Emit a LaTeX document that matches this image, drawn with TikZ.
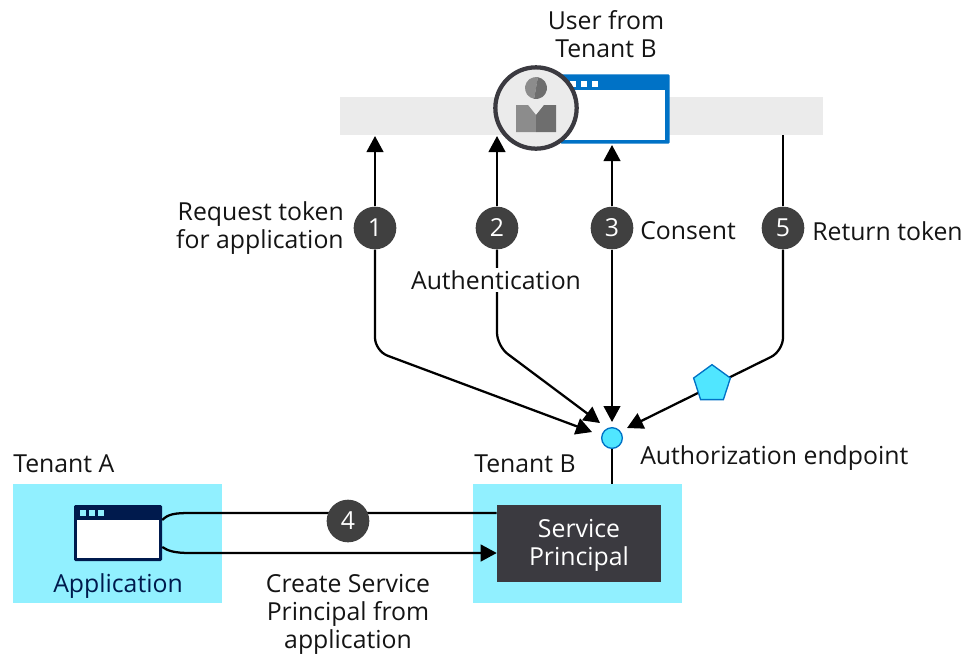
\documentclass[tikz,border=0pt]{standalone}
\usepackage{fontspec}
\setmainfont{Open Sans}
\usetikzlibrary{arrows.meta, shapes.geometric}

\definecolor{tenantcyan}{HTML}{91F0FF}
\definecolor{endpointcyan}{HTML}{50E6FF}
\definecolor{azureblue}{HTML}{0072C6}
\definecolor{navy}{HTML}{001A4D}
\definecolor{darkbox}{HTML}{3B3A40}
\definecolor{stepgray}{HTML}{404040}

\begin{document}
\begin{tikzpicture}[
    x=0.75pt, y=-0.75pt,
    font=\fontsize{18.6}{21}\selectfont,
    label/.style={align=center, inner sep=0pt, text=black!92},
    tenant/.style={fill=tenantcyan, minimum width=157pt, minimum height=89pt, inner sep=0pt},
    stepdot/.style={circle, fill=stepgray, text=white, minimum size=32pt, inner sep=0pt},
    arrow/.style={-{Triangle[length=12pt,width=12.5pt]}, draw=black, line width=1.7pt},
    wire/.style={draw=black, line width=1.7pt},
    winsquare/.style={minimum size=3.8pt, inner sep=0pt},
]
\useasboundingbox (0,0) rectangle (974,662);

% bar with the user on it
\node[fill=black!8, minimum width=362pt, minimum height=28.5pt, inner sep=0pt] (bar) at (581.5,116) {};
\node[fill=azureblue, rounded corners=1pt, minimum width=82pt, minimum height=52pt, inner sep=0pt] (browser) at (615,109) {};
\node[fill=white, minimum width=75pt, minimum height=37.5pt, inner sep=0pt] (browserpane) at (615,115) {};
\foreach \x in {573,584,595}
    \node[winsquare, fill=white] (bsq\x) at (\x,84) {};
\node[circle, draw=darkbox, line width=3.2pt, fill=black!8, minimum size=61pt, inner sep=0pt] (user) at (536,108) {};
\fill[black!45] (536,88) ++(100:11) arc (100:280:11) -- cycle;
\fill[black!57] (536,88) ++(100:11) arc (100:-80:11) -- cycle;
\fill[black!45] (516,105) -- (528,105) -- (536,115) -- (536,132) -- (516,132) -- cycle;
\fill[black!57] (556,105) -- (544,105) -- (536,115) -- (536,132) -- (556,132) -- cycle;
\node[label, anchor=south] (usertxt) at (606,58) {User from\\Tenant B};

\coordinate (top1) at (375,136);
\coordinate (top2) at (497,136);
\coordinate (top3) at (612,145);
\coordinate (top5) at (783,135);
\coordinate (in1) at (592,432);
\coordinate (in2) at (600,423);
\coordinate (in3) at (612,422);
\coordinate (in5) at (627,428);

% tenants
\node[tenant] (tenanta) at (117.5,543.5) {};
\node[tenant] (tenantb) at (577.5,543.5) {};
\node[label, anchor=west] (tenantatxt) at (13,464) {Tenant A};
\node[label, anchor=west] (tenantbtxt) at (474,464) {Tenant B};

\node[fill=darkbox, minimum width=123pt, minimum height=58pt, inner sep=0pt] (sp) at (579,543.5) {};
\node[label, text=white] (sptxt) at (579,545.5) {Service\\Principal};
\node[fill=navy, rounded corners=1pt, minimum width=66pt, minimum height=42pt, inner sep=0pt] (app) at (118,533) {};
\node[fill=white, minimum width=61pt, minimum height=29pt, inner sep=0pt] (apppane) at (118,539) {};
\foreach \x in {83,92,101}
    \node[winsquare, fill=tenantcyan] (asq\x) at (\x,513) {};
\node[label, text=navy] (apptxt) at (118,586.5) {Application};

% endpoint
\node[circle, draw=azureblue, fill=endpointcyan, line width=1pt, minimum size=15.5pt, inner sep=0pt] (endpoint) at (612,438) {};
\node[label, anchor=west] (endpointtxt) at (640,458) {Authorization endpoint};
\draw[wire] (endpoint) -- (endpoint |- tenantb.north);

% steps
\node[stepdot] (n1) at (375,228) {1};
\node[stepdot] (n2) at (497,228) {2};
\node[stepdot] (n3) at (612,228) {3};
\node[stepdot] (n5) at (783,228) {5};

\draw[arrow] (n1) -- (top1);
\draw[arrow] (n2) -- (top2);
\draw[arrow] (n3) -- (top3);
\draw[wire] (n5) -- (top5);
\draw[arrow, rounded corners=10pt] (n1) -- (375,351) -- (in1);
\draw[arrow, rounded corners=10pt] (n2) -- (497,346) -- (in2);
\draw[arrow] (n3) -- (in3);
\draw[arrow, rounded corners=10pt] (n5) -- (783,351) -- (in5);
\node[regular polygon, regular polygon sides=5, draw=azureblue, fill=endpointcyan, line width=1pt, minimum size=29pt, inner sep=0pt] (token) at (712,384) {};

\node[label, align=right, anchor=east] (n1txt) at (344,228) {Request token\\for application};
\node[label, fill=white, inner ysep=2pt] (n2txt) at (496,280) {Authentication};
\node[label, anchor=west] (n3txt) at (640,231) {Consent};
\node[label, anchor=west] (n5txt) at (812,231) {Return token};

% application to service principal
\draw[wire] (app.east |- 0,520) .. controls (168,514) and (175,513) .. (190,513) -- (sp.west |- 0,513);
\draw[arrow] (app.east |- 0,547) .. controls (168,551) and (175,553) .. (190,553) -- (sp.west |- 0,553);
\node[stepdot] (n4) at (348,521) {4};
\node[label] (createtxt) at (348,614) {Create Service\\Principal from\\application};

\end{tikzpicture}
\end{document}
